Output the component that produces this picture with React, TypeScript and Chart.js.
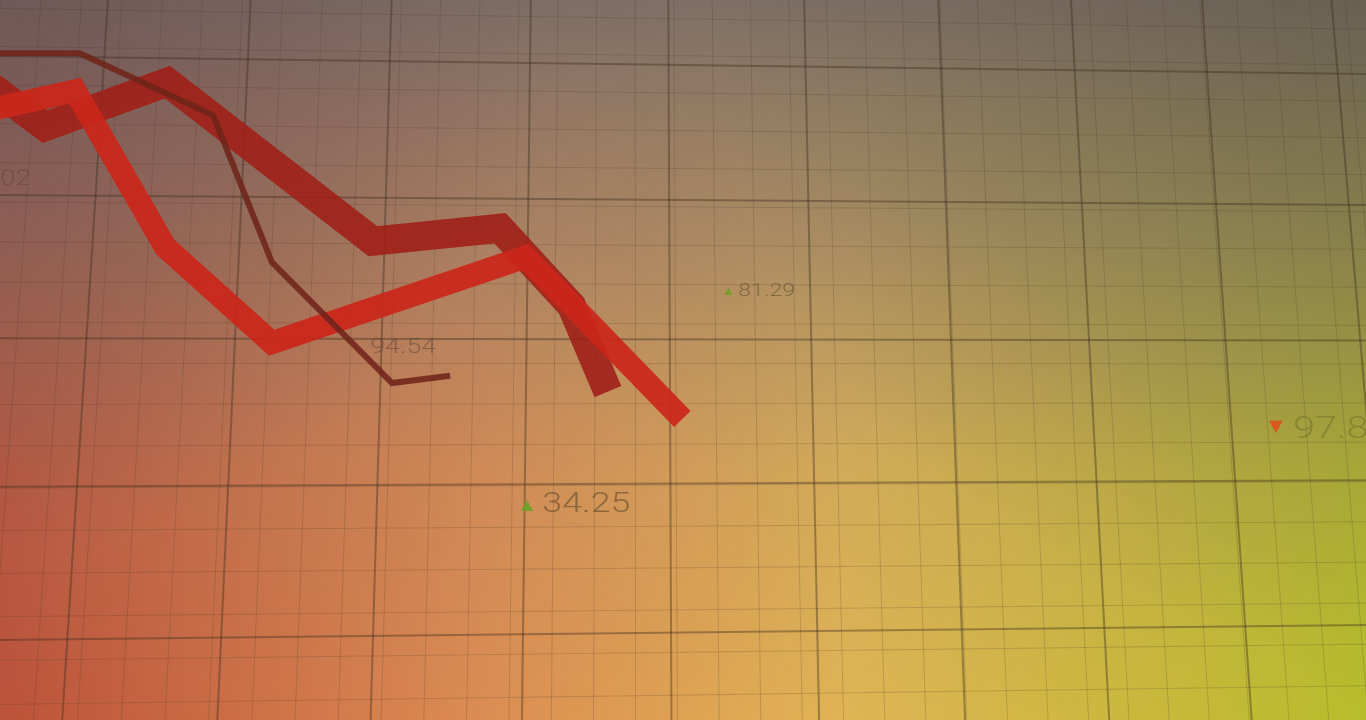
import React, { useEffect, useRef } from "react";
import { Chart, registerables } from "chart.js";

Chart.register(...registerables);

// ---- data (x: time index, y: price level) ----
const thinX = [-0.3, 1.17, 3.12, 3.98, 5.74, 6.59];
const thinY = [92.6, 92.6, 84.0, 63.6, 46.8, 47.8];

const brightX = [-0.22, 1.1, 2.42, 3.98, 7.69, 9.99];
const brightY = [84.6, 87.4, 65.7, 52.4, 64.3, 41.8];

const ribbonX = [-0.22, 0.66, 2.45, 5.46, 7.32, 8.37, 8.9];
const ribbonY = [88.6, 82.4, 88.6, 66.5, 68.3, 57.5, 45.6];

// floating quote labels
const quoteText = ["34.25", "81.29", "94.54", "97.85", "02"];
const quoteX = [7.94, 10.81, 5.42, 18.93, 0.0];
const quoteY = [28.9, 58.9, 51.0, 39.2, 74.3];
const quoteDir = ["up", "up", "none", "down", "none"];

// styles for labels (kept apart from data)
const quoteFont = [28, 18, 21, 31, 22];
const quoteColor = [
  "rgba(95,72,40,0.6)",
  "rgba(90,78,45,0.6)",
  "rgba(95,70,55,0.55)",
  "rgba(110,110,40,0.5)",
  "rgba(90,60,60,0.42)",
];

const toPts = (xs: number[], ys: number[]) => xs.map((x, i) => ({ x, y: ys[i] }));

function solveHomography(src: number[][], dst: number[][]) {
  const A: number[][] = [];
  const b: number[] = [];
  for (let i = 0; i < 4; i++) {
    const [x, y] = src[i];
    const [X, Y] = dst[i];
    A.push([x, y, 1, 0, 0, 0, -X * x, -X * y]);
    b.push(X);
    A.push([0, 0, 0, x, y, 1, -Y * x, -Y * y]);
    b.push(Y);
  }
  const n = 8;
  for (let c = 0; c < n; c++) {
    let p = c;
    for (let r = c + 1; r < n; r++) if (Math.abs(A[r][c]) > Math.abs(A[p][c])) p = r;
    [A[c], A[p]] = [A[p], A[c]];
    [b[c], b[p]] = [b[p], b[c]];
    for (let r = 0; r < n; r++) {
      if (r === c) continue;
      const f = A[r][c] / A[c][c];
      for (let k = c; k < n; k++) A[r][k] -= f * A[c][k];
      b[r] -= f * b[c];
    }
  }
  return b.map((v, i) => v / A[i][i]);
}

const H = solveHomography(
  [[0, 0], [9, 0], [0, 4], [9, 4]],
  [[104.3, 57.4], [1337.7, 73.7], [67.3, 639.3], [1384.4, 624.8]]
);
const proj = (u: number, v: number) => {
  const w = H[6] * u + H[7] * v + 1;
  return [(H[0] * u + H[1] * v + H[2]) / w, (H[3] * u + H[4] * v + H[5]) / w];
};

const backdropPlugin = {
  id: "backdrop",
  beforeDraw(chart: any) {
    const { ctx, width, height } = chart;
    ctx.save();
    const g = ctx.createLinearGradient(0, 0, width, 0);
    g.addColorStop(0, "rgb(188,82,58)");
    g.addColorStop(0.35, "rgb(220,140,82)");
    g.addColorStop(0.62, "rgb(224,180,84)");
    g.addColorStop(1, "rgb(184,188,42)");
    ctx.fillStyle = g;
    ctx.fillRect(0, 0, width, height);
    const v = ctx.createLinearGradient(0, 0, 0, height);
    v.addColorStop(0, "rgba(118,106,102,0.92)");
    v.addColorStop(0.3, "rgba(132,116,108,0.62)");
    v.addColorStop(0.65, "rgba(145,125,112,0.18)");
    v.addColorStop(1, "rgba(145,125,112,0)");
    ctx.fillStyle = v;
    ctx.fillRect(0, 0, width, height);
    const r = ctx.createRadialGradient(width, 0, 0, width, 0, 650);
    r.addColorStop(0, "rgba(70,65,55,0.35)");
    r.addColorStop(1, "rgba(70,65,55,0)");
    ctx.fillStyle = r;
    ctx.fillRect(0, 0, width, height);
    const l = ctx.createRadialGradient(0, 0, 0, 0, 0, 550);
    l.addColorStop(0, "rgba(80,50,60,0.3)");
    l.addColorStop(1, "rgba(80,50,60,0)");
    ctx.fillStyle = l;
    ctx.fillRect(0, 0, width, height);

    const line = (a: number[], b2: number[]) => {
      ctx.beginPath();
      ctx.moveTo(a[0], a[1]);
      ctx.lineTo(b2[0], b2[1]);
      ctx.stroke();
    };
    // fine grid
    ctx.strokeStyle = "rgba(70,55,40,0.2)";
    ctx.lineWidth = 1;
    const fs = 0.2816;
    for (let k = -10; k < 45; k++) {
      const u = 0.098 + k * fs;
      line(proj(u, -2), proj(u, 6.5));
    }
    for (let k = -10; k < 30; k++) {
      const vv = 0.21 + k * 0.28;
      line(proj(-2, vv), proj(11, vv));
    }
    // major grid
    ctx.strokeStyle = "rgba(60,45,30,0.4)";
    ctx.lineWidth = 2;
    for (let u = -2; u <= 11; u++) line(proj(u, -2), proj(u, 6.5));
    for (let vv = -2; vv <= 6; vv++) line(proj(-2, vv), proj(11, vv));
    ctx.restore();
  },
};

const quotesPlugin = {
  id: "quotes",
  beforeDatasetsDraw(chart: any) {
    const { ctx } = chart;
    const xs = chart.scales.x;
    const ys = chart.scales.y;
    ctx.save();
    quoteText.forEach((t, i) => {
      const px = xs.getPixelForValue(quoteX[i]);
      const py = ys.getPixelForValue(quoteY[i]);
      const size = quoteFont[i];
      ctx.save();
      ctx.translate(px, py);
      ctx.scale(1.28, 1);
      ctx.font = `300 ${size}px Roboto`;
      ctx.fillStyle = quoteColor[i];
      ctx.textBaseline = "alphabetic";
      ctx.fillText(t, 0, 0);
      ctx.restore();
      const s = size * 0.4;
      const tx = px - size * 0.55;
      ctx.beginPath();
      if (quoteDir[i] === "up") {
        ctx.fillStyle = "rgba(110,160,40,0.9)";
        ctx.moveTo(tx, py - s - 1);
        ctx.lineTo(tx + s * 0.55, py - 1);
        ctx.lineTo(tx - s * 0.55, py - 1);
        ctx.closePath();
        ctx.fill();
      } else if (quoteDir[i] === "down") {
        const top = py - size * 0.55;
        ctx.fillStyle = "rgba(220,85,30,0.95)";
        ctx.moveTo(tx - s * 0.55, top);
        ctx.lineTo(tx + s * 0.55, top);
        ctx.lineTo(tx, top + s);
        ctx.closePath();
        ctx.fill();
      }
    });
    ctx.restore();
  },
};

export default function App() {
  const ref = useRef<HTMLCanvasElement | null>(null);
  useEffect(() => {
    if (!ref.current) return;
    const chart = new Chart(ref.current, {
      type: "line",
      data: {
        datasets: [
          {
            label: "thin",
            data: toPts(thinX, thinY),
            borderColor: "rgba(112,36,26,0.88)",
            borderWidth: 6,
          },
          {
            label: "bright",
            data: toPts(brightX, brightY),
            borderColor: "rgba(203,38,26,0.92)",
            borderWidth: 23,
          },
          {
            label: "ribbon",
            data: toPts(ribbonX, ribbonY),
            borderColor: "rgba(160,32,24,0.9)",
            borderWidth: 29,
          },
        ],
      },
      options: {
        animation: false,
        responsive: true,
        maintainAspectRatio: false,
        layout: { padding: 0 },
        elements: {
          point: { radius: 0, hoverRadius: 0 },
          line: { tension: 0, borderJoinStyle: "miter", borderCapStyle: "butt", fill: false },
        },
        scales: {
          x: { type: "linear", min: 0, max: 20, display: false },
          y: { type: "linear", min: 0, max: 100, display: false },
        },
        plugins: { legend: { display: false }, tooltip: { enabled: false } },
      },
      plugins: [backdropPlugin, quotesPlugin],
    } as any);
    return () => chart.destroy();
  }, []);
  return (
    <div style={{ position: "fixed", left: 0, top: 0, width: "100vw", height: "100vh" }}>
      <canvas ref={ref} />
    </div>
  );
}
